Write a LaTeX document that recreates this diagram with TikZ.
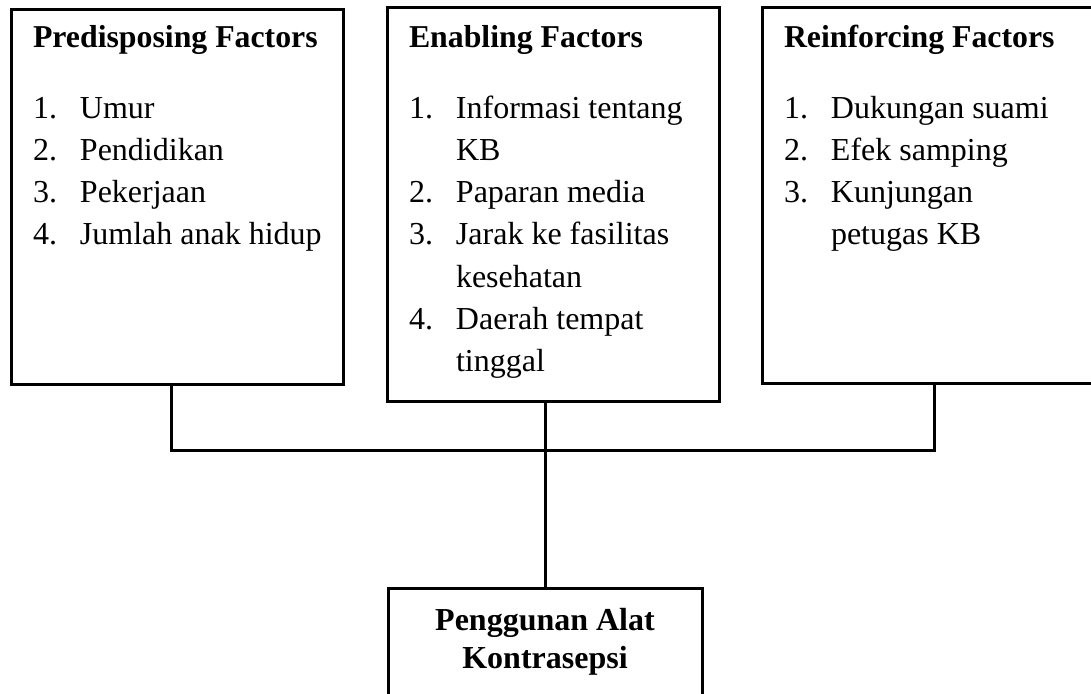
\documentclass[tikz,border=0pt]{standalone}
\usepackage{fontspec}
\setmainfont{Liberation Serif}
\begin{document}
\begin{tikzpicture}[x=1pt,y=-1pt,
  box/.style={draw=black,line width=3pt,inner sep=0pt,outer sep=0pt,anchor=north west},
  conn/.style={draw=black,line width=3pt},
  txt/.style={anchor=base west,inner sep=0pt,outer sep=0pt,font=\fontsize{32}{42.2}\selectfont},
  btxt/.style={anchor=base,inner sep=0pt,outer sep=0pt,font=\fontsize{32}{38}\selectfont\bfseries}]
\clip (0,0) rectangle (1091,693);
\fill[white] (0,0) rectangle (1091,693);
% boxes
\node[box,minimum width=332pt,minimum height=374.5pt] (P) at (11.5,9.5) {};
\node[box,minimum width=331.5pt,minimum height=393pt] (E) at (387.5,8) {};
\node[box,minimum width=338pt,minimum height=375.5pt] (R) at (762,7.5) {};
\node[box,minimum width=314pt,minimum height=122pt] (K) at (388,588) {};
% texts
\node[txt] (Pt) at (33,48) {\begin{tabular}[t]{@{}l@{}l@{}}
\multicolumn{2}{@{}l@{}}{\fontsize{31.8}{42.2}\selectfont\bfseries Predisposing Factors}\\[28pt]
\makebox[47pt][l]{1.} & Umur\\
\makebox[47pt][l]{2.} & Pendidikan\\
\makebox[47pt][l]{3.} & Pekerjaan\\
\makebox[47pt][l]{4.} & Jumlah anak hidup
\end{tabular}};
\node[txt] (Et) at (409,48) {\begin{tabular}[t]{@{}l@{}l@{}}
\multicolumn{2}{@{}l@{}}{\fontsize{31.8}{42.2}\selectfont\bfseries Enabling Factors}\\[28pt]
\makebox[47pt][l]{1.} & Informasi tentang\\
 & KB\\
\makebox[47pt][l]{2.} & Paparan media\\
\makebox[47pt][l]{3.} & Jarak ke fasilitas\\
 & kesehatan\\
\makebox[47pt][l]{4.} & Daerah tempat\\
 & tinggal
\end{tabular}};
\node[txt] (Rt) at (784,48) {\begin{tabular}[t]{@{}l@{}l@{}}
\multicolumn{2}{@{}l@{}}{\fontsize{31.8}{42.2}\selectfont\bfseries Reinforcing Factors}\\[28pt]
\makebox[47pt][l]{1.} & Dukungan suami\\
\makebox[47pt][l]{2.} & Efek samping\\
\makebox[47pt][l]{3.} & Kunjungan\\
 & petugas KB
\end{tabular}};
\node[btxt] (Kt) at (545,630) {\begin{tabular}[t]{@{}c@{}}Penggunan Alat\\Kontrasepsi\end{tabular}};
% connectors
\coordinate (jL) at (171,450);
\coordinate (jR) at (934,450);
\draw[conn] (P.south -| jL) -- (jL) -- (jR) -- (R.south -| jR);
\draw[conn] (K.north |- E.south) -- (K.north);
\end{tikzpicture}
\end{document}
